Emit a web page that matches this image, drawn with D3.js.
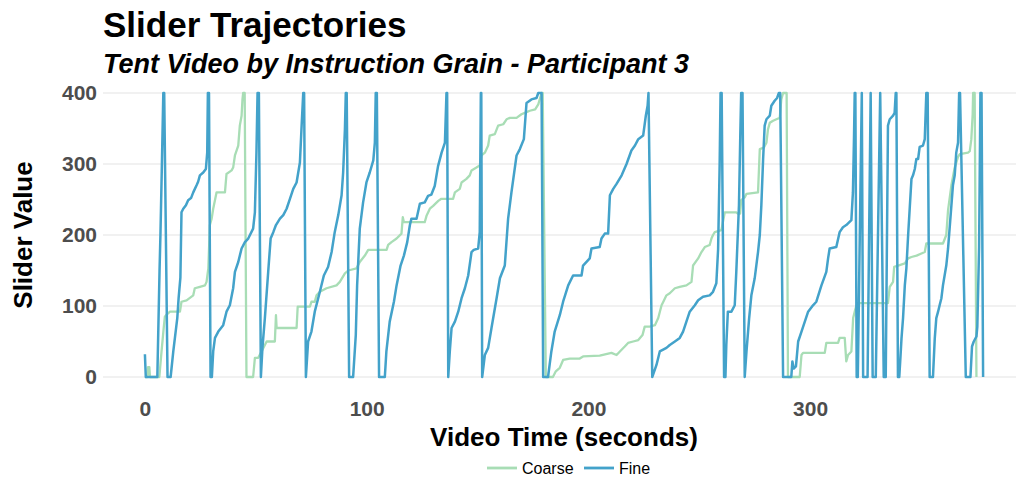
<!DOCTYPE html>
<html>
<head>
<meta charset="utf-8">
<script src="https://cdn.jsdelivr.net/npm/d3@7"></script>
<style>
  html, body { margin: 0; padding: 0; background: #ffffff; }
  svg { display: block; font-family: "Liberation Sans", Arial, Helvetica, sans-serif; }
</style>
</head>
<body>
<svg id="chart" width="1016" height="480"></svg>
<script>
// Slider position over video time, [seconds, value]
const fine = [
  [0, 32], [0.4, 0], [5.6, 0], [6.6, 150], [7.0, 200], [7.6, 290], [8.3, 400], [8.7, 400], [10.2, 0],
  [11.6, 0], [12.8, 36], [14.6, 83], [15.2, 111], [16.0, 140], [16.5, 232], [17.3, 237], [18.5, 242],
  [19.5, 249], [20.8, 252], [21.8, 260], [23.3, 270], [24.0, 275], [24.8, 284], [26.3, 288], [27.5, 293],
  [28.1, 316], [28.4, 400], [28.9, 400], [29.6, 0], [30.2, 0], [30.8, 36], [31.6, 55], [33.1, 64],
  [35.3, 73], [36.8, 92], [38.3, 101], [39.8, 125], [40.6, 148], [42.1, 162], [43.6, 181], [45.1, 190],
  [46.6, 195], [48.8, 209], [49.6, 232], [50.3, 316], [50.8, 400], [51.4, 400], [52.3, 0],
  [53.0, 41], [54.1, 83], [55.6, 148], [56.7, 195], [57.9, 204], [59.1, 214], [60.9, 223], [62.4, 228],
  [63.9, 237], [65.4, 251], [66.9, 265], [68.4, 274], [69.9, 302], [70.6, 349], [71.4, 400], [71.8, 400],
  [72.6, 0], [73.6, 50], [75.1, 64], [76.6, 92], [78.9, 120], [80.7, 143], [82.6, 155], [84.2, 176],
  [85.6, 204], [87.2, 228], [88.7, 256], [89.4, 288], [90.2, 349], [90.6, 400], [91.0, 400], [92.1, 0],
  [93.9, 0], [95.1, 59], [95.7, 129], [96.9, 209], [98.4, 246], [99.9, 274], [101.4, 288], [103.0, 305],
  [103.7, 330], [104.1, 400], [104.6, 400], [105.6, 0], [108.2, 0], [108.9, 36], [110.4, 78], [112.3, 106],
  [113.5, 129], [115.3, 157], [116.8, 171], [118.3, 190], [119.5, 214], [120.2, 223], [122.5, 223],
  [124.0, 244], [126.2, 246], [127.7, 255], [129.2, 257], [130.7, 269], [132.2, 297], [133.8, 316],
  [135.3, 330], [136.0, 400], [136.3, 400], [136.8, 0], [137.5, 36], [138.3, 69], [139.8, 78], [141.3, 92],
  [142.8, 111], [144.3, 125], [145.8, 143], [147.3, 176], [148.3, 179], [150.3, 181], [151.0, 204],
  [151.5, 400], [151.7, 400], [152.1, 0], [153.3, 31], [154.8, 41], [156.3, 69], [158.6, 111], [160.1, 139],
  [162.3, 157], [163.8, 223], [165.3, 260], [167.6, 312], [169.1, 321], [170.9, 335], [172.1, 386],
  [174.3, 391], [176.6, 393], [177.4, 400], [178.9, 400], [179.6, 0], [181.8, 0], [183.3, 36], [184.8, 64],
  [187.1, 87], [188.6, 106], [190.9, 129], [193.1, 143], [196.9, 143], [197.6, 157], [200.6, 167],
  [201.4, 181], [205.1, 183], [205.9, 195], [207.4, 202], [208.9, 202], [209.7, 256], [211.2, 265],
  [212.7, 272], [215.0, 284], [217.2, 300], [219.4, 319], [221.0, 326], [222.5, 335], [224.7, 340],
  [225.9, 368], [226.7, 382], [227.1, 400], [228.8, 0], [230.7, 17], [232.2, 36], [235.2, 41], [236.7, 45],
  [239.0, 50], [241.2, 55], [242.7, 64], [244.2, 78], [245.7, 92], [248.0, 101], [249.5, 108], [251.7, 113],
  [254.7, 115], [256.2, 120], [257.7, 132], [258.5, 180], [259.2, 300], [259.6, 400], [260.1, 400],
  [261.2, 0], [261.8, 0], [262.2, 45], [262.9, 92], [264.5, 92], [266.0, 101], [266.7, 148], [267.9, 242],
  [268.5, 340], [268.9, 400], [269.5, 400], [270.5, 0], [271.3, 36], [272.5, 83], [273.5, 115], [275.0, 139],
  [276.5, 176], [277.3, 200], [278.0, 242], [278.8, 307], [279.5, 354], [280.3, 363], [281.8, 368],
  [282.5, 382], [284.0, 389], [285.1, 393], [285.9, 400], [286.5, 400], [287.8, 0], [291.5, 0], [292.0, 22],
  [292.6, 12], [293.6, 15], [294.6, 50], [296.1, 64], [297.6, 78], [299.1, 92], [301.3, 101], [302.8, 106],
  [305.1, 129], [307.3, 148], [308.1, 167], [308.8, 181], [311.8, 183], [313.3, 204], [314.8, 211],
  [316.3, 214], [318.6, 221], [319.3, 260], [319.8, 340], [320.1, 400], [320.4, 400], [321.0, 0],
  [321.5, 0], [323.3, 400], [323.9, 0], [325.9, 0], [327.3, 400], [328.2, 0], [329.6, 0], [331.6, 400],
  [333.2, 0], [334.1, 0], [335.1, 354], [335.9, 363], [337.4, 368], [338.1, 372], [338.6, 400], [338.9, 400],
  [339.6, 0], [340.2, 0], [340.7, 26], [341.2, 54], [341.9, 83], [342.7, 129], [343.4, 153], [344.2, 200],
  [344.9, 237], [345.7, 279], [346.4, 284], [347.2, 293], [347.9, 307], [348.7, 307], [349.4, 324],
  [350.9, 326], [351.7, 335], [352.4, 400], [353.0, 400], [353.9, 0], [355.4, 0], [356.2, 54], [356.9, 83],
  [357.7, 92], [358.4, 101], [359.2, 111], [359.9, 129], [361.4, 157], [362.2, 181], [362.9, 209],
  [364.4, 270], [365.2, 284], [365.9, 316], [366.7, 330], [367.2, 400], [367.6, 400], [370.2, 0],
  [372.3, 0], [373.0, 43], [373.8, 50], [375.0, 57], [375.4, 71], [376.2, 183], [376.8, 400], [377.3, 400],
  [378.0, 0]
];

const coarse = [
  [0, 0], [1.1, 0], [1.4, 14], [2.0, 14], [2.3, 0], [6.5, 0], [7.5, 36], [8.5, 70], [9.0, 85], [9.8, 88],
  [11.3, 92], [15.8, 92], [16.5, 106], [18.8, 108], [21.8, 115], [22.5, 125], [24.8, 127], [27.1, 129],
  [27.8, 134], [28.6, 153], [29.3, 214], [30.1, 223], [30.8, 237], [32.3, 260], [36.1, 260], [36.8, 286],
  [39.1, 291], [39.8, 295], [40.6, 312], [42.1, 326], [42.8, 354], [43.6, 368], [44.0, 391], [44.3, 400],
  [45.0, 400], [45.8, 0], [48.8, 0], [49.6, 27], [51.1, 27], [52.6, 36], [54.1, 45], [54.9, 50], [58.6, 50],
  [59.1, 87], [59.4, 69], [68.4, 69], [68.9, 99], [74.4, 99], [75.1, 106], [76.6, 106], [77.4, 115],
  [78.9, 120], [81.9, 125], [86.4, 129], [87.9, 134], [90.2, 146], [91.7, 150], [95.4, 153], [96.9, 162],
  [99.2, 171], [100.7, 179], [109.0, 179], [109.7, 186], [111.2, 190], [113.5, 195], [115.7, 202],
  [116.3, 225], [116.8, 218], [126.2, 218], [127.0, 227], [128.5, 237], [130.0, 241], [132.3, 248],
  [133.7, 251], [139.0, 251], [139.8, 260], [142.0, 265], [142.8, 274], [145.0, 279], [146.5, 284],
  [147.3, 291], [149.5, 295], [151.0, 298], [151.8, 312], [153.3, 316], [154.8, 326], [155.5, 340],
  [157.8, 342], [159.3, 354], [161.6, 356], [163.1, 363], [164.6, 365], [167.6, 365], [169.8, 370],
  [171.3, 372], [173.6, 375], [176.0, 377], [177.4, 384], [178.9, 400], [179.4, 400], [180.8, 0],
  [184.0, 0], [185.3, 8], [187.1, 13], [188.6, 24], [191.6, 26], [196.1, 26], [197.6, 29], [205.1, 30],
  [210.4, 34], [212.7, 31], [214.2, 36], [216.4, 43], [217.9, 48], [220.2, 50], [222.5, 52], [224.4, 59],
  [225.4, 71], [227.7, 71], [230.0, 73], [231.5, 83], [233.0, 101], [233.8, 106], [235.2, 115], [236.7, 118],
  [239.0, 125], [241.2, 127], [244.2, 129], [246.5, 134], [247.2, 157], [249.5, 167], [251.0, 176],
  [252.5, 183], [254.7, 186], [255.5, 195], [256.2, 200], [257.0, 204], [260.0, 207], [261.5, 232],
  [266.7, 232], [267.4, 230], [268.4, 230], [268.9, 249], [270.5, 253], [271.3, 258], [276.5, 260],
  [277.3, 321], [279.1, 323], [280.3, 330], [281.0, 349], [281.8, 358], [283.3, 361], [284.8, 363],
  [286.3, 365], [287.0, 391], [287.8, 400], [289.4, 400], [290.0, 0], [295.3, 0], [296.1, 31], [296.8, 34],
  [306.6, 34], [307.3, 48], [312.6, 48], [313.3, 55], [315.6, 55], [316.3, 22], [317.1, 31], [318.6, 36],
  [319.4, 83], [320.1, 92], [320.9, 101], [322.4, 104], [335.1, 104], [335.9, 127], [337.4, 134],
  [337.9, 155], [339.7, 157], [342.7, 160], [344.2, 167], [345.7, 169], [348.0, 171], [350.2, 174],
  [351.7, 176], [352.4, 188], [359.9, 188], [361.4, 200], [362.2, 235], [363.7, 270], [365.2, 295],
  [366.7, 310], [367.5, 314], [371.2, 316], [372.0, 318], [372.7, 335], [373.3, 370], [373.5, 400],
  [374.2, 400], [375.0, 0]
];

const seriesNames = ["Coarse", "Fine"];
const seriesColors = ["#a8ddb5", "#43a2ca"];
const seriesWidths = [2.3, 2.5];
const xTicks = [0, 100, 200, 300];
const yTicks = [0, 100, 200, 300, 400];

const titleText = "Slider Trajectories";
const subtitleText = "Tent Video by Instruction Grain - Participant 3";
const xTitle = "Video Time (seconds)";
const yTitle = "Slider Value";

// ---- layout ----
const svg = d3.select("#chart");
const panel = { left: 103, right: 1025, top: 93, bottom: 377 };

const allT = fine.concat(coarse).map(d => d[0]);
const [tMin, tMax] = d3.extent(allT);
const pad = (tMax - tMin) * 0.05;

const x = d3.scaleLinear().domain([tMin - pad, tMax + pad]).range([panel.left, panel.right]);
const y = d3.scaleLinear().domain([0, 400]).range([panel.bottom, panel.top]);

// horizontal grid
svg.append("g")
  .selectAll("line")
  .data(yTicks)
  .join("line")
  .attr("x1", panel.left).attr("x2", panel.right)
  .attr("y1", d => y(d)).attr("y2", d => y(d))
  .attr("stroke", "#e3e3e3").attr("stroke-width", 1.1);

// y tick labels
const yAxis = d3.axisLeft(y).tickValues(yTicks).tickSize(0).tickPadding(6);
svg.append("g")
  .attr("transform", `translate(${panel.left},0)`)
  .call(yAxis)
  .call(g => g.select(".domain").remove())
  .call(g => g.selectAll("text")
    .attr("font-family", "'Liberation Sans', Arial, sans-serif")
    .attr("font-size", 21).attr("font-weight", "bold").attr("fill", "#4d4d4d"));

// x tick labels
const xAxis = d3.axisBottom(x).tickValues(xTicks).tickSize(0).tickPadding(0);
svg.append("g")
  .attr("transform", `translate(0,${panel.bottom})`)
  .call(xAxis)
  .call(g => g.select(".domain").remove())
  .call(g => g.selectAll("text")
    .attr("y", 38.5).attr("dy", null)
    .attr("font-family", "'Liberation Sans', Arial, sans-serif")
    .attr("font-size", 21).attr("font-weight", "bold").attr("fill", "#4d4d4d"));

// trajectories
const line = d3.line().x(d => x(d[0])).y(d => y(d[1]));
const seriesData = [coarse, fine];
svg.append("g")
  .selectAll("path")
  .data(seriesData)
  .join("path")
  .attr("d", line)
  .attr("fill", "none")
  .attr("stroke", (d, i) => seriesColors[i])
  .attr("stroke-width", (d, i) => seriesWidths[i])
  .attr("stroke-linejoin", "round")
  .attr("stroke-linecap", "butt");

// titles
svg.append("text")
  .attr("x", panel.left).attr("y", 37)
  .attr("font-size", 35).attr("font-weight", "bold").attr("fill", "#000")
  .text(titleText);

svg.append("text")
  .attr("x", panel.left).attr("y", 73)
  .attr("font-size", 27).attr("font-weight", "bold").attr("font-style", "italic").attr("fill", "#000")
  .text(subtitleText);

svg.append("text")
  .attr("x", (panel.left + panel.right) / 2).attr("y", 446)
  .attr("text-anchor", "middle")
  .attr("font-size", 26).attr("font-weight", "bold").attr("fill", "#000")
  .text(xTitle);

svg.append("text")
  .attr("transform", `translate(32,${(panel.top + panel.bottom) / 2}) rotate(-90)`)
  .attr("text-anchor", "middle")
  .attr("font-size", 26).attr("font-weight", "bold").attr("fill", "#000")
  .text(yTitle);

// legend
const legendItems = [
  { key: 487, label: 522 },
  { key: 584, label: 619 }
];
const legend = svg.append("g");
seriesNames.forEach((name, i) => {
  const it = legendItems[i];
  legend.append("line")
    .attr("x1", it.key).attr("x2", it.key + 30)
    .attr("y1", 468).attr("y2", 468)
    .attr("stroke", seriesColors[i]).attr("stroke-width", 2.8);
  legend.append("text")
    .attr("x", it.label).attr("y", 474)
    .attr("font-size", 16).attr("fill", "#000")
    .text(name);
});
</script>
</body>
</html>
